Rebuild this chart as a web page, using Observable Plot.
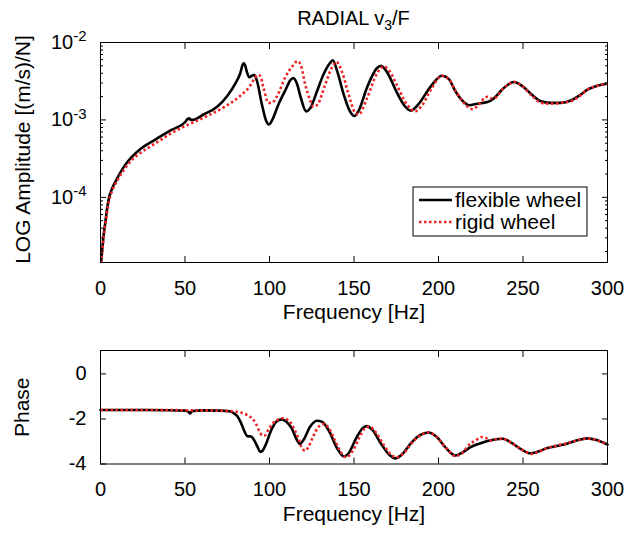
<!DOCTYPE html>
<html><head><meta charset="utf-8">
<script src="https://cdn.jsdelivr.net/npm/d3@7"></script>
<script src="https://cdn.jsdelivr.net/npm/@observablehq/plot@0.6"></script>
<style>
body{margin:0;background:#fff;font-family:"Liberation Sans",Arial,sans-serif;}
#wrap{position:relative;width:627px;height:535px;overflow:hidden;}
#top{position:absolute;left:0;top:0;}
#bot{position:absolute;left:0;top:335px;}
#title{position:absolute;left:100px;width:507px;top:7px;text-align:center;font-size:20px;line-height:22px;color:#000;}
#title sub{font-size:14px;vertical-align:-5px;line-height:0;}
</style></head><body>
<div id="wrap"><div id="top"></div><div id="bot"></div><div id="title">RADIAL v<sub>3</sub>/F</div></div>
<script>
// ---------- data ----------
const freqAmpFlex = [0.3,1,2,3,4,5,7,10,14,18,24,32,42,50,51.5,52.5,53.5,54.5,61,69,75,79.5,82.5,84.6,85.5,86.5,88,89.5,91,92.5,95.5,98,99.7,101.4,105.3,109.3,112.6,114.2,116.2,118.6,121.7,124.1,128.1,132,136,137.5,139.9,143.9,147.4,150.2,152.8,157.7,163.6,166,170,175,180,183.5,188,195,202,206,210,215,218,223,228.9,232.9,238,244.7,250,255,260.6,266,272.4,278.3,283,288.2,294,300];
const logAmpFlex = [-4.85,-4.68,-4.46,-4.30,-4.13,-4.01,-3.88,-3.75,-3.60,-3.49,-3.37,-3.26,-3.13,-3.03,-2.99,-2.98,-3.00,-3.00,-2.93,-2.83,-2.69,-2.54,-2.41,-2.27,-2.29,-2.37,-2.45,-2.43,-2.42,-2.49,-2.80,-3.01,-3.06,-3.01,-2.80,-2.62,-2.48,-2.46,-2.53,-2.72,-2.89,-2.85,-2.63,-2.41,-2.26,-2.23,-2.36,-2.67,-2.88,-2.95,-2.88,-2.58,-2.33,-2.30,-2.40,-2.63,-2.82,-2.88,-2.80,-2.58,-2.43,-2.47,-2.63,-2.77,-2.81,-2.79,-2.77,-2.72,-2.60,-2.51,-2.57,-2.67,-2.76,-2.78,-2.78,-2.75,-2.69,-2.61,-2.56,-2.53];

const freqAmpRigid = [0.3,1,2,3,5,7,10,14,18,24,32,42,50,53,63,72.7,82.6,88.5,91,93,94.5,96.4,99.5,101.4,104.3,109.3,113.8,116.5,118.5,121.1,124.1,126,128.5,133,137,139.5,142.9,146.8,150.8,152.8,157.7,163.6,167.7,171,176,181,186,190,196,202,206,210,215,220,224,227,229,231,233,238,245,250,255,261,266,272,278,283,288,294,300];
const logAmpRigid = [-4.85,-4.70,-4.49,-4.33,-4.05,-3.91,-3.78,-3.64,-3.53,-3.42,-3.31,-3.17,-3.08,-3.05,-2.95,-2.84,-2.69,-2.56,-2.47,-2.42,-2.43,-2.58,-2.78,-2.78,-2.70,-2.45,-2.30,-2.24,-2.29,-2.54,-2.75,-2.83,-2.80,-2.54,-2.32,-2.25,-2.38,-2.67,-2.91,-2.93,-2.72,-2.40,-2.31,-2.37,-2.58,-2.79,-2.89,-2.82,-2.59,-2.43,-2.47,-2.62,-2.78,-2.86,-2.80,-2.72,-2.70,-2.72,-2.72,-2.60,-2.51,-2.57,-2.68,-2.78,-2.79,-2.78,-2.76,-2.70,-2.61,-2.56,-2.53];

const freqPhFlex = [0,20,40,50,52,53,54,60,70,76,79,81,83,85,87,89,91,93,94.5,96,98,101,104,107,110,113,116,118,120,124,128,131,135,140,144,147,151,155,157.5,161,166,171,174.5,178,184,189,194,199,204,210,214,219,224,229,234,238,243,249,254.5,259,264,270,276,282,288,294,300];
const phaseFlex = [-1.60,-1.60,-1.61,-1.63,-1.68,-1.76,-1.66,-1.62,-1.63,-1.66,-1.75,-1.88,-2.15,-2.52,-2.77,-2.78,-2.95,-3.25,-3.46,-3.40,-3.10,-2.50,-2.12,-2.02,-2.12,-2.40,-2.90,-3.11,-2.95,-2.35,-2.08,-2.12,-2.50,-3.30,-3.67,-3.50,-2.90,-2.42,-2.32,-2.50,-3.10,-3.60,-3.75,-3.60,-3.05,-2.72,-2.60,-2.80,-3.25,-3.62,-3.50,-3.25,-3.10,-2.98,-2.90,-2.88,-3.05,-3.35,-3.53,-3.45,-3.30,-3.20,-3.10,-2.95,-2.86,-2.95,-3.14];

const freqPhRigid = [0,20,40,53,60,70,78,82,85,88,90,92,94,96,97.5,99,102,105,108,111,114,117,119,121,123,126,129,132,135,139,142,145.5,149,153,156,159,163,168,172,175.5,179,185,190,194,199,204,210,214,218,222,226,228,231,234,238,243,249,255,259,264,270,276,282,288,294,300];
const phaseRigid = [-1.60,-1.60,-1.60,-1.62,-1.62,-1.63,-1.66,-1.70,-1.76,-1.88,-2.00,-2.22,-2.55,-2.74,-2.72,-2.52,-2.20,-2.03,-1.97,-2.05,-2.35,-2.85,-3.25,-3.41,-3.25,-2.75,-2.35,-2.22,-2.40,-3.00,-3.45,-3.70,-3.45,-2.85,-2.45,-2.34,-2.60,-3.20,-3.60,-3.70,-3.55,-3.00,-2.70,-2.60,-2.80,-3.25,-3.65,-3.52,-3.15,-2.95,-2.80,-2.84,-2.96,-2.90,-2.88,-3.05,-3.35,-3.55,-3.47,-3.30,-3.18,-3.08,-2.95,-2.86,-2.95,-3.15];

const freqTicks = [0,50,100,150,200,250,300];
const ampMajorTicks = [1e-4,1e-3,1e-2];
const ampMinorTicks = [2e-5,3e-5,4e-5,5e-5,6e-5,7e-5,8e-5,9e-5,2e-4,3e-4,4e-4,5e-4,6e-4,7e-4,8e-4,9e-4,2e-3,3e-3,4e-3,5e-3,6e-3,7e-3,8e-3,9e-3];
const phaseTicks = [0,-2,-4];
const seriesNames = ["flexible wheel","rigid wheel"];
const xLabel = "Frequency [Hz]";
const yLabelTop = "LOG Amplitude [(m/s)/N]";
const yLabelBot = "Phase";

// ---------- tables ----------
const ampFlex = freqAmpFlex.map((f,i)=>({f, a: 10 ** logAmpFlex[i]}));
const ampRigid = freqAmpRigid.map((f,i)=>({f, a: 10 ** logAmpRigid[i]}));
const phFlex = freqPhFlex.map((f,i)=>({f, p: phaseFlex[i]}));
const phRigid = freqPhRigid.map((f,i)=>({f, p: phaseRigid[i]}));

const FONT = '"Liberation Sans", Arial, Helvetica, sans-serif';
const RED = "#ee2424";
const blackStyle = {stroke:"#000", strokeWidth:2.6, curve:"monotone-x"};
const redStyle = {stroke:RED, strokeWidth:2.6, strokeDasharray:"2.5,2.5", strokeLinecap:"butt", curve:"monotone-x"};
const blank = () => "";

const topPlot = Plot.plot({
  width: 627, height: 335,
  marginLeft: 100, marginRight: 20, marginTop: 42, marginBottom: 73,
  style: {fontFamily: FONT, fontSize: "20px", color: "#000", background: "#fff", overflow: "visible"},
  x: {domain: [0,300], label: null},
  y: {type: "log", domain: [1.44e-5, 1e-2], label: null},
  marks: [
    Plot.line(ampFlex, {x:"f", y:"a", ...blackStyle, clip:true}),
    Plot.line(ampRigid, {x:"f", y:"a", ...redStyle, clip:true}),
    Plot.frame({stroke:"#000", strokeWidth:1}),
    Plot.axisX({anchor:"bottom", ticks:freqTicks, tickSize:-6, tickPadding:24, tickFormat:d=>String(d), fontSize:20, label:null}),
    Plot.axisX({anchor:"top", ticks:freqTicks, tickSize:-6, tickFormat:blank, label:null}),
    Plot.axisY({anchor:"left", ticks:ampMajorTicks, tickSize:-6, tickPadding:20, tickFormat:d=>"10^"+Math.round(Math.log10(d)), fontSize:20, label:null}),
    Plot.axisY({anchor:"right", ticks:ampMajorTicks, tickSize:-6, tickFormat:blank, label:null}),
    Plot.axisY({anchor:"left", ticks:ampMinorTicks, tickSize:-3, tickFormat:blank, label:null}),
    Plot.axisY({anchor:"right", ticks:ampMinorTicks, tickSize:-3, tickFormat:blank, label:null}),
    Plot.text([xLabel], {text:d=>d, frameAnchor:"bottom", dy:56, fontSize:21}),
    Plot.text([yLabelTop], {text:d=>d, frameAnchor:"left", textAnchor:"middle", dx:-77, dy:-3, rotate:-90, fontSize:21})
  ]
});

const botPlot = Plot.plot({
  width: 627, height: 200,
  marginLeft: 100, marginRight: 20, marginTop: 15, marginBottom: 71.5,
  style: {fontFamily: FONT, fontSize: "20px", color: "#000", background: "#fff", overflow: "visible"},
  x: {domain: [0,300], label: null},
  y: {domain: [-4, 1.04], label: null},
  marks: [
    Plot.line(phFlex, {x:"f", y:"p", ...blackStyle}),
    Plot.line(phRigid, {x:"f", y:"p", ...redStyle}),
    Plot.frame({stroke:"#000", strokeWidth:1}),
    Plot.axisX({anchor:"bottom", ticks:freqTicks, tickSize:-6, tickPadding:24, tickFormat:d=>String(d), fontSize:20, label:null}),
    Plot.axisX({anchor:"top", ticks:freqTicks, tickSize:-6, tickFormat:blank, label:null}),
    Plot.axisY({anchor:"left", ticks:phaseTicks, tickSize:-6, tickPadding:20, tickFormat:d=>String(d), fontSize:20, label:null}),
    Plot.axisY({anchor:"right", ticks:phaseTicks, tickSize:-6, tickFormat:blank, label:null}),
    Plot.text([xLabel], {text:d=>d, frameAnchor:"bottom", dy:56.5, fontSize:21}),
    Plot.text([yLabelBot], {text:d=>d, frameAnchor:"left", textAnchor:"middle", dx:-78, rotate:-90, fontSize:21})
  ]
});

document.getElementById("top").appendChild(topPlot);
document.getElementById("bot").appendChild(botPlot);

// superscript exponents on log tick labels
d3.select(topPlot).selectAll("text").each(function(){
  const t = this.textContent;
  const m = /^10\^(-?\d+)$/.exec(t);
  if (m) {
    const sel = d3.select(this);
    sel.selectAll("*").remove();
    sel.text(null);
    sel.append("tspan").text("10");
    sel.append("tspan").attr("dy","-0.5em").attr("font-size","15px").text(m[1]);
  }
});

// legend inside the top axes
const lg = d3.select(topPlot).append("g").attr("font-family", FONT).attr("font-size", 21).attr("text-anchor","start");
lg.append("rect").attr("x",413).attr("y",187).attr("width",174).attr("height",49)
  .attr("fill","#fff").attr("stroke","#000").attr("stroke-width",1);
const rows = [{name:seriesNames[0], st:blackStyle, y:200},{name:seriesNames[1], st:redStyle, y:222}];
rows.forEach(r=>{
  lg.append("line").attr("x1",419).attr("x2",452).attr("y1",r.y).attr("y2",r.y)
    .attr("stroke",r.st.stroke).attr("stroke-width",r.st.strokeWidth)
    .attr("stroke-linecap","butt")
    .attr("stroke-dasharray", r.st.strokeDasharray || null);
  lg.append("text").attr("x",455).attr("y",r.y).attr("dy","0.35em").attr("fill","#000").attr("text-anchor","start").text(r.name);
});
</script>
</body></html>
